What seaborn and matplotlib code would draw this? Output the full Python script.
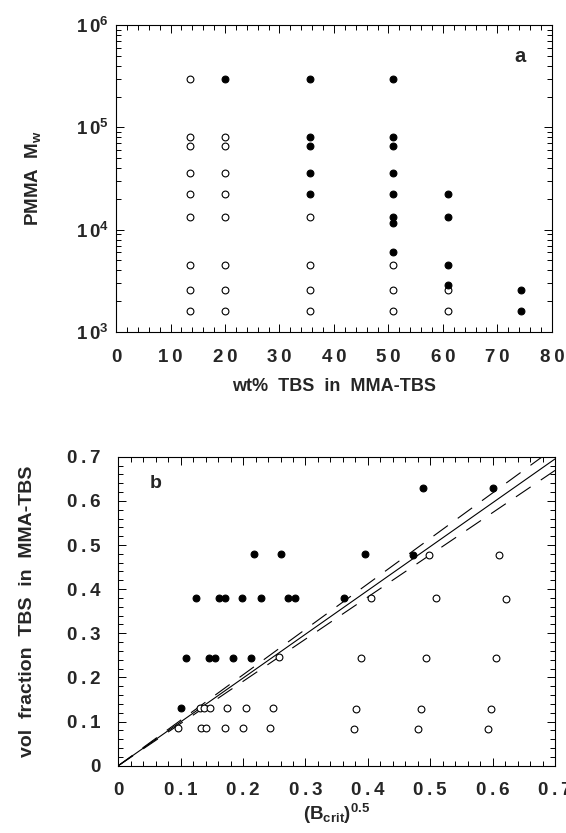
import numpy as np
import pandas as pd
import matplotlib
matplotlib.use("Agg")
import matplotlib.pyplot as plt
import seaborn as sns
from matplotlib.ticker import MultipleLocator, FixedLocator, FixedFormatter, LogLocator, NullFormatter

sns.set_theme(style="ticks")
plt.rcParams['font.family'] = ['Liberation Sans', 'DejaVu Sans']
plt.rcParams['font.weight'] = 'bold'
plt.rcParams['mathtext.fontset'] = 'custom'
plt.rcParams['mathtext.rm'] = 'Liberation Sans:bold'
plt.rcParams['mathtext.bf'] = 'Liberation Sans:bold'
plt.rcParams['mathtext.it'] = 'Liberation Sans:bold'

# ---------------- Panel a data ----------------
a_open_wt = [13.6]*9 + [20.0]*8 + [35.6]*4 + [50.9]*3 + [60.9]*2
a_open_mw = [300000, 80000, 65000, 36000, 22400, 13300, 4500, 2570, 1600,
             80000, 65000, 36000, 22400, 13300, 4500, 2570, 1600,
             13300, 4500, 2570, 1600,
             4500, 2570, 1600,
             2570, 1600]
a_fill_wt = [20.0] + [35.6]*5 + [50.9]*8 + [60.9]*4 + [74.4]*2
a_fill_mw = [300000,
             300000, 80000, 65000, 36000, 22400,
             300000, 80000, 65000, 36000, 22400, 13300, 11500, 6000,
             22400, 13300, 4500, 2860,
             2570, 1600]

# ---------------- Panel b data ----------------
b_fill_x = [0.1005, 0.1086, 0.124, 0.1455, 0.1556, 0.1615, 0.171, 0.184, 0.199, 0.213,
            0.218, 0.228, 0.260, 0.272, 0.284, 0.362, 0.395, 0.473, 0.488, 0.6005]
b_fill_y = [0.130, 0.245, 0.380, 0.245, 0.245, 0.380, 0.380, 0.245, 0.380, 0.245,
            0.480, 0.380, 0.480, 0.380, 0.380, 0.380, 0.480, 0.477, 0.630, 0.630]
b_open_x = [0.096, 0.133, 0.141, 0.171, 0.2005, 0.243, 0.377, 0.481, 0.5925,
            0.131, 0.138, 0.147, 0.175, 0.205, 0.248, 0.381, 0.485, 0.598,
            0.257, 0.389, 0.494, 0.605,
            0.405, 0.509, 0.621,
            0.498, 0.610]
b_open_y = [0.085, 0.085, 0.085, 0.085, 0.085, 0.085, 0.084, 0.084, 0.083,
            0.130, 0.130, 0.130, 0.130, 0.130, 0.130, 0.129, 0.128, 0.128,
            0.247, 0.245, 0.245, 0.244,
            0.379, 0.379, 0.377,
            0.478, 0.477]
fit_x = [0.0, 0.7]
fit_y = [0.0, 0.695]
upper_y = [0.0, 0.721]
lower_y = [0.0, 0.669]

a_xticks = [0, 10, 20, 30, 40, 50, 60, 70, 80]
a_xticklabels = ['0', '10', '20', '30', '40', '50', '60', '70', '80']
a_yticks = [1e3, 1e4, 1e5, 1e6]
a_yexp = ['3', '4', '5', '6']
b_ticks = [0, 0.1, 0.2, 0.3, 0.4, 0.5, 0.6, 0.7]
b_ticklabels = ['0', '0.1', '0.2', '0.3', '0.4', '0.5', '0.6', '0.7']

def spaced(s):
    return '\u2009'.join(s)

dfa_o = pd.DataFrame({'wt': a_open_wt, 'mw': a_open_mw})
dfa_f = pd.DataFrame({'wt': a_fill_wt, 'mw': a_fill_mw})
dfb_o = pd.DataFrame({'x': b_open_x, 'y': b_open_y})
dfb_f = pd.DataFrame({'x': b_fill_x, 'y': b_fill_y})

fig = plt.figure(figsize=(5.66, 8.33), dpi=100)
ax1 = fig.add_axes([0.205, 0.6014, 0.770, 0.3686])
ax2 = fig.add_axes([0.209, 0.0808, 0.7716, 0.3709])

ms = 24
sns.scatterplot(data=dfa_o, x='wt', y='mw', ax=ax1, s=ms, facecolor='white',
                edgecolor='black', linewidth=0.8, zorder=3)
sns.scatterplot(data=dfa_f, x='wt', y='mw', ax=ax1, s=ms, color='black',
                edgecolor='black', linewidth=0.8, zorder=3)
ax1.set_yscale('log')
ax1.set_xlim(0, 80)
ax1.set_ylim(1e3, 1e6)
ax1.xaxis.set_major_locator(FixedLocator(a_xticks))
ax1.xaxis.set_major_formatter(FixedFormatter([spaced(t) for t in a_xticklabels]))
ax1.xaxis.set_minor_locator(MultipleLocator(2))
ax1.yaxis.set_major_locator(FixedLocator(a_yticks))
ax1.yaxis.set_major_formatter(FixedFormatter(
    [r'$\mathbf{1\,0^{%s}}$' % e for e in a_yexp]))
ax1.yaxis.set_minor_locator(LogLocator(base=10, subs=np.arange(2, 10)))
ax1.yaxis.set_minor_formatter(NullFormatter())
ax1.set_xlabel('wt%  TBS  in  MMA-TBS', fontsize=13, fontweight='bold', labelpad=9)
ax1.set_ylabel(r'PMMA  M$_{\mathbf{w}}$', fontsize=13.5, fontweight='bold', labelpad=24)
ax1.text(0.928, 0.896, 'a', transform=ax1.transAxes, fontsize=14.5, fontweight='bold',
         ha='center', va='center')

sns.lineplot(x=fit_x, y=fit_y, ax=ax2, color='black', lw=0.8, zorder=2)
sns.lineplot(x=fit_x, y=upper_y, ax=ax2, color='black', lw=0.8, zorder=2)
sns.lineplot(x=fit_x, y=lower_y, ax=ax2, color='black', lw=0.8, zorder=2)
lines = ax2.get_lines()
lines[1].set_dashes((16, 11))
lines[2].set_dashes((16, 11))
sns.scatterplot(data=dfb_o, x='x', y='y', ax=ax2, s=ms, facecolor='white',
                edgecolor='black', linewidth=0.8, zorder=3)
sns.scatterplot(data=dfb_f, x='x', y='y', ax=ax2, s=ms, color='black',
                edgecolor='black', linewidth=0.8, zorder=3)
ax2.set_xlim(0, 0.7)
ax2.set_ylim(0, 0.7)
ax2.xaxis.set_major_locator(FixedLocator(b_ticks))
ax2.xaxis.set_major_formatter(FixedFormatter([spaced(t) for t in b_ticklabels]))
ax2.yaxis.set_major_locator(FixedLocator(b_ticks))
ax2.yaxis.set_major_formatter(FixedFormatter([spaced(t) for t in b_ticklabels]))
ax2.xaxis.set_minor_locator(MultipleLocator(0.02))
ax2.yaxis.set_minor_locator(MultipleLocator(0.02))
ax2.set_xlabel(r'(B$_{\mathbf{crit}}$)$^{\mathbf{0.5}}$', fontsize=13.5, fontweight='bold', labelpad=2)
ax2.set_ylabel('vol  fraction  TBS  in  MMA-TBS', fontsize=14, fontweight='bold', labelpad=22)
ax2.text(0.086, 0.912, 'b', transform=ax2.transAxes, fontsize=14, fontweight='bold',
         ha='center', va='center')

for ax, ypad in ((ax1, 5), (ax2, 13)):
    for s in ax.spines.values():
        s.set_linewidth(0.8)
        s.set_color('black')
        s.set_visible(True)
    ax.tick_params(which='both', direction='in', top=True, right=True, color='black', width=0.7)
    ax.tick_params(which='major', length=6)
    ax.tick_params(which='minor', length=3.5)
    ax.tick_params(axis='x', which='major', pad=12, labelsize=13.5)
    ax.tick_params(axis='y', which='major', pad=ypad, labelsize=13.5)
    for lab in ax.get_xticklabels() + ax.get_yticklabels():
        lab.set_fontweight('bold')
    if ax.get_legend() is not None:
        ax.get_legend().remove()

fig.savefig('out.png', dpi=100, facecolor='white')
